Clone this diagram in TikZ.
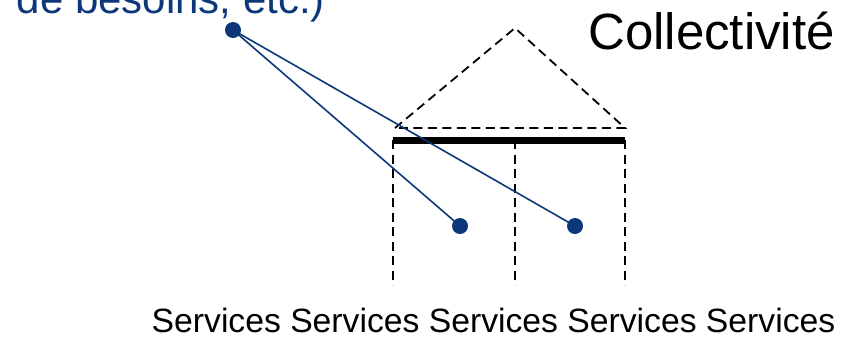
\documentclass[tikz,border=0pt]{standalone}
\usepackage{fontspec}
\setmainfont{Liberation Sans}
\definecolor{blau}{RGB}{12,56,122}
\newcommand\bildbreite{850}
\newcommand\bildhoehe{341}
\newcommand\hauslinks{393}
\newcommand\hausmitte{515}
\newcommand\hausrechts{625}
\newcommand\traufe{140}
\newcommand\hausunten{285}
\tikzset{
	gestrichelt/.style = {line width = 1.8pt, dash pattern = on 9pt off 5.5pt},
	punkt/.style = {circle, fill = blau, minimum size = 16pt, inner sep = 0pt},
	verbindung/.style = {draw = blau, line width = 1.6pt},
	schrift/.style = {inner sep = 0pt}
}

\begin{document}
\begin{tikzpicture}[x = 1pt, y = -1pt]
	\useasboundingbox (0, 0) rectangle (\bildbreite, \bildhoehe);
	\clip (0, 0) rectangle (\bildbreite, \bildhoehe);

	% Dach:
	\draw [gestrichelt] (\hauslinks+2, 128) -- (\hausmitte, 28) -- (\hausrechts, 128) -- cycle;
	\draw [line width = 7pt] (\hauslinks, \traufe) -- (\hausrechts, \traufe);

	% Waende:
	\foreach \x in {\hauslinks, \hausmitte, \hausrechts} {
		\draw [gestrichelt] (\x, \traufe) -- (\x, \hausunten);
	}

	% Texte
	\node [schrift, anchor = base west, text = blau, font = \fontsize{42pt}{46pt}\selectfont] (besoins) at (16.5, 13) {de besoins, etc.)};
	\node [schrift, anchor = base west, font = \fontsize{51pt}{56pt}\selectfont] (collectivite) at (588, 49) {Collectivité};
	\node [schrift, anchor = base, font = \fontsize{33.7pt}{38pt}\selectfont] (services) at (493.5, 332) {Services Services Services Services Services};

	% Punkte und Verbindungen
	\node [punkt] (quelle) at (233, 30) {};
	\node [punkt] (ziel1) at (460, 226) {};
	\node [punkt] (ziel2) at (575, 226) {};
	\draw [verbindung] (quelle.center) -- (ziel1.center);
	\draw [verbindung] (quelle.center) -- (ziel2.center);
\end{tikzpicture}
\end{document}
